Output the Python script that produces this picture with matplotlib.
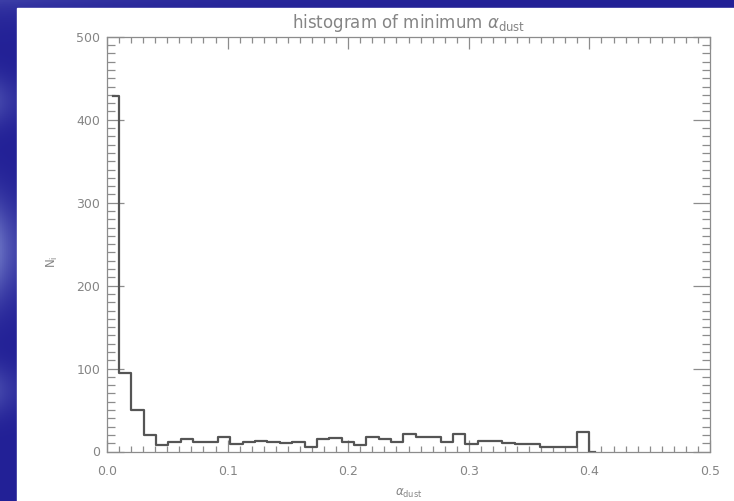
import numpy as np
import matplotlib
matplotlib.use("Agg")
import matplotlib.pyplot as plt
from matplotlib.patches import Rectangle
from matplotlib.ticker import MultipleLocator

# histogram of the minimum alpha_dust, IDL style (psym=10)
alpha_lo = 0.0048     # first bin centre
alpha_hi = 0.4048     # last bin centre
counts = [429, 95, 50, 20, 8, 11, 15, 11, 11, 17,
          9, 11, 13, 11, 10, 11, 6, 15, 16, 11,
          8, 18, 15, 11, 21, 17, 18, 12, 21, 9,
          13, 13, 10, 9, 9, 5, 5, 6, 23, 0]
x_ticks = [0.0, 0.1, 0.2, 0.3, 0.4, 0.5]
y_ticks = [0, 100, 200, 300, 400, 500]

W, H = 734, 501
plt.rcParams["mathtext.fontset"] = "dejavusans"
fig = plt.figure(figsize=(W / 100, H / 100), dpi=100)

# blue slide background with a white panel
bg = fig.add_axes([0, 0, 1, 1], zorder=-10)
yy = np.linspace(0, 1, 250)[:, None]
xx = np.linspace(0, 1, 367)[None, :]
streaks = (0.35 * np.exp(-((yy - 0.20) / 0.05) ** 2)
           + 0.75 * np.exp(-((yy - 0.50) / 0.10) ** 2)
           + 0.35 * np.exp(-((yy - 0.78) / 0.05) ** 2))
glow = streaks * np.exp(-xx / 0.03)
glow = glow + 0.3 * np.exp(-xx / 0.25) * np.exp(-yy / 0.03)
dark = np.array([34, 32, 150]) / 255
light = np.array([120, 130, 205]) / 255
img = dark + glow[..., None] * (light - dark)
bg.imshow(np.clip(img, 0, 1), extent=[0, W, H, 0], aspect="auto")
bg.add_patch(Rectangle((17, 8), W, H, color="white"))
bg.set_xlim(0, W)
bg.set_ylim(H, 0)
bg.axis("off")

axc = "#8c8c8c"
txc = "#858585"
ax = fig.add_axes([107 / W, 1 - 451.5 / H, 603 / W, 414.7 / H])
ax.set_facecolor("white")

centres = np.linspace(alpha_lo, alpha_hi, len(counts))
ax.step(centres, counts, where="mid", color="#555555", lw=1.6)

ax.set_xlim(0, 0.5)
ax.set_ylim(0, 500)
ax.set_xticks(x_ticks)
ax.set_xticklabels(["%.1f" % t for t in x_ticks])
ax.set_yticks(y_ticks)
ax.xaxis.set_minor_locator(MultipleLocator(0.01))
ax.yaxis.set_minor_locator(MultipleLocator(10))
ax.tick_params(which="both", direction="in", top=True, right=True,
               colors=axc, labelcolor=txc, labelsize=9, width=0.9)
ax.tick_params(axis="x", which="major", length=8.3, pad=10)
ax.tick_params(axis="x", which="minor", length=4.2)
ax.tick_params(axis="y", which="major", length=12, pad=5)
ax.tick_params(axis="y", which="minor", length=6)
for s in ax.spines.values():
    s.set_color(axc)
    s.set_linewidth(0.9)

ax.set_title(r"histogram of minimum $\alpha_{\mathrm{dust}}$",
             color=txc, fontsize=12, pad=6)
ax.set_xlabel(r"$\alpha_{\mathrm{dust}}$", color=txc, fontsize=8.5, labelpad=6)
ax.set_ylabel(r"$\mathrm{N_i}$", color=txc, fontsize=8.5)
ax.yaxis.set_label_coords(-0.078, 0.457)

fig.savefig("out.png", dpi=100)
